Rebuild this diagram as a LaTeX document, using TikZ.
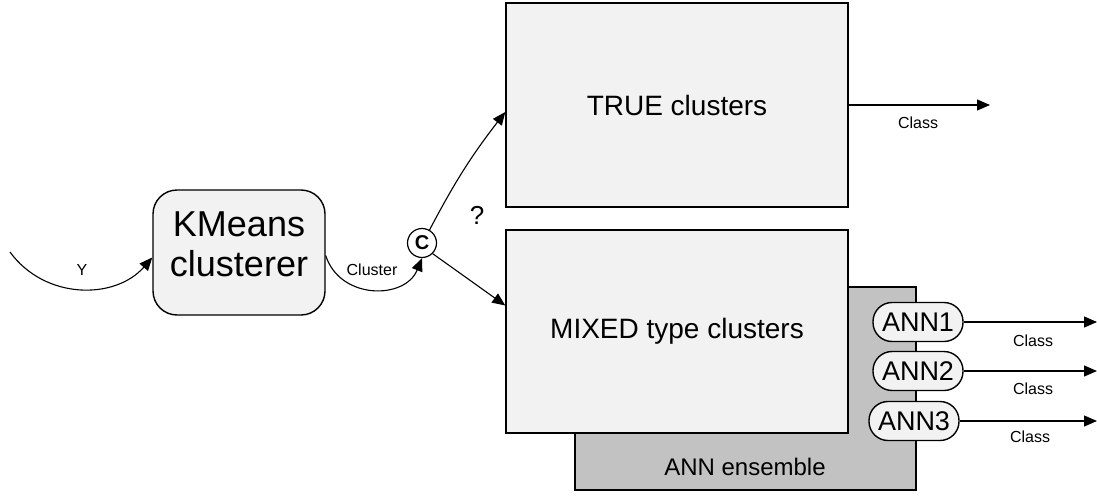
\documentclass[tikz,border=0pt]{standalone}
\usepackage{fontspec}
\setmainfont{Liberation Sans}
\usetikzlibrary{arrows.meta}
\begin{document}
\begin{tikzpicture}[x=1pt,y=-1pt,
  boxline/.style={draw=black,line width=1.4pt},
  lightbox/.style={boxline,fill=black!5,inner sep=0pt},
  greybox/.style={boxline,fill=black!24,inner sep=0pt},
  annbox/.style={boxline,fill=black!5,rounded corners=19pt,minimum width=90pt,minimum height=39pt,inner sep=0pt,font=\fontsize{27}{30}\selectfont},
  conn/.style={line width=1.1pt,-{Triangle[length=13pt,width=11pt]}},
  small/.style={font=\fontsize{16}{18}\selectfont,inner sep=0pt},
  big/.style={font=\fontsize{28}{30}\selectfont,inner sep=0pt}]
\useasboundingbox (0,0) rectangle (1097,495);
% KMeans
\node[lightbox,rounded corners=24pt,minimum width=172pt,minimum height=125pt] (km) at (239,252.5) {};
\node[align=center,font=\fontsize{36}{40}\selectfont,inner sep=0pt] (kmt) at (239,244) {KMeans\\clusterer};
% C circle
\node[circle,draw,line width=1.2pt,fill=white,minimum size=29pt,inner sep=0pt,font=\fontsize{20}{20}\selectfont\bfseries] (cc) at (422,243) {C};
% boxes
\node[lightbox,minimum width=342pt,minimum height=204pt] (tc) at (677,105) {};
\node[big] (tct) at (677,105) {TRUE clusters};
\node[greybox,minimum width=341pt,minimum height=203pt] (ens) at (745.5,388.5) {};
\node[lightbox,minimum width=342pt,minimum height=203pt] (mc) at (677,331.5) {};
\node[big] (mct) at (677,331) {MIXED type clusters};
\node[font=\fontsize{24}{26}\selectfont,inner sep=0pt] (enst) at (745,467) {ANN ensemble};
% ANN nodes
\node[annbox] (a1) at (918,322) {ANN1};
\node[annbox] (a2) at (918,371) {ANN2};
\node[annbox] (a3) at (914,421) {ANN3};
% coordinates
\coordinate (yin) at (10,252);
\coordinate (o0) at (990,105);
\coordinate (o1) at (1097,322);
\coordinate (o2) at (1097,371);
\coordinate (o3) at (1097,421);
% connectors
\draw[conn] (yin) .. controls (45,300) and (115,300) .. ([yshift=-5pt]km.west);
\node[small] (ylab) at (82,270) {Y};
\draw[conn] ([yshift=-3pt]km.east) .. controls (340,300) and (405,300) .. (cc.south);
\node[small] (cllab) at (372,270) {Cluster};
\draw[conn] (cc.60) to[bend left=5] ([yshift=-7pt]tc.west);
\draw[conn] (cc.-45) -- ([yshift=26pt]mc.west);
\node[font=\fontsize{26}{28}\selectfont,inner sep=0pt] (q) at (477,215) {?};
\draw[conn] (tc.east) -- (o0);
\node[small] (c0) at (918,123) {Class};
\draw[conn] (a1.east) -- (o1);
\node[small] (c1) at (1033,341) {Class};
\draw[conn] (a2.east) -- (o2);
\node[small] (c2) at (1033,389) {Class};
\draw[conn] (a3.east) -- (o3);
\node[small] (c3) at (1030,437) {Class};
\end{tikzpicture}
\end{document}
